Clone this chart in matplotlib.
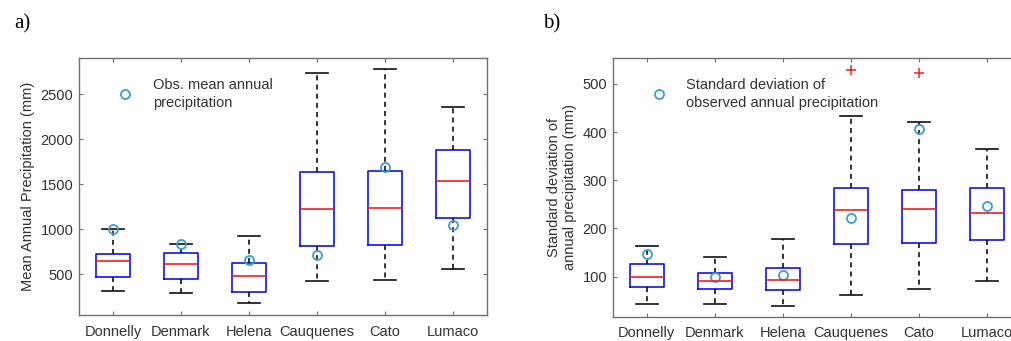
import matplotlib
matplotlib.use("Agg")
import matplotlib.pyplot as plt
from matplotlib.lines import Line2D

plt.rcParams['font.family'] = ['Liberation Sans', 'DejaVu Sans']

stations = ["Donnelly", "Denmark", "Helena", "Cauquenes", "Cato", "Lumaco"]

# Panel a: mean annual precipitation (mm)
a_whislo = [318, 296, 178, 422, 441, 555]
a_q1     = [474, 444, 300, 811, 826, 1130]
a_med    = [648, 618, 478, 1222, 1237, 1533]
a_q3     = [722, 737, 626, 1637, 1652, 1881]
a_whishi = [1007, 841, 926, 2733, 2778, 2363]
a_obs    = [1007, 841, 663, 715, 1696, 1052]
a_fliers = [[], [], [], [], [], []]

# Panel b: standard deviation of annual precipitation (mm)
b_whislo = [43, 43, 40, 63, 75, 92]
b_q1     = [78, 75, 72, 167, 169, 177]
b_med    = [100, 90, 93, 239, 240, 232]
b_q3     = [126, 108, 119, 283, 279, 283]
b_whishi = [164, 140, 179, 433, 420, 364]
b_obs    = [148, 100, 103, 222, 407, 247]
b_fliers = [[], [], [], [528], [523], []]

TXT = '#333333'
SPINE = '#707070'
OBS_C = '#3d9bd0'
FS = 10.5


def make_stats(lo, q1, med, q3, hi, fl):
    return [dict(whislo=lo[i], q1=q1[i], med=med[i], q3=q3[i], whishi=hi[i],
                 fliers=fl[i], label=stations[i]) for i in range(len(stations))]


def draw(ax, stats, obs, ylim, yticks, legend_label, ylabel, ylab_x):
    pos = list(range(1, len(stations) + 1))
    ax.bxp(stats, positions=pos, widths=0.5, capwidths=0.32, showfliers=True,
           boxprops=dict(color='#1010ee', linewidth=1.2),
           medianprops=dict(color='#ee2020', linewidth=1.2),
           whiskerprops=dict(color='#111111', linewidth=1.2, linestyle=(0, (3, 2.5))),
           capprops=dict(color='#111111', linewidth=1.2),
           flierprops=dict(marker='+', markeredgecolor='#ee2020', markersize=7,
                           markeredgewidth=1.1, linestyle='none'))
    ax.plot(pos, obs, linestyle='none', marker='o', markersize=6.5,
            markerfacecolor='none', markeredgecolor=OBS_C, markeredgewidth=1.3)
    ax.set_xlim(0.5, len(stations) + 0.5)
    ax.set_ylim(*ylim)
    ax.set_yticks(yticks)
    ax.set_xticks(pos)
    ax.set_xticklabels(stations)
    ax.tick_params(direction='in', top=True, right=True, length=3, width=0.8,
                   colors=SPINE, labelcolor=TXT, labelsize=FS, pad=4)
    ax.tick_params(axis='x', pad=7)
    for s in ax.spines.values():
        s.set_color(SPINE)
        s.set_linewidth(1.0)
    ax.set_ylabel(ylabel, fontsize=FS, color=TXT, linespacing=1.2)
    ax.yaxis.set_label_coords(ylab_x, 0.5)
    h = Line2D([], [], linestyle='none', marker='o', markersize=6.5,
               markerfacecolor='none', markeredgecolor=OBS_C, markeredgewidth=1.3)
    leg = ax.legend([h], [legend_label], loc='upper left', bbox_to_anchor=(0.045, 0.975),
                    frameon=False, fontsize=FS, handlelength=2.0, handletextpad=0.9,
                    labelcolor=TXT)
    for t in leg.get_texts():
        t.set_linespacing(1.4)


fig = plt.figure(figsize=(10.11, 3.41), dpi=100)
ax1 = fig.add_axes([0.0781, 0.0762, 0.4036, 0.7537])
ax2 = fig.add_axes([0.606, 0.0713, 0.4036, 0.7578])

draw(ax1, make_stats(a_whislo, a_q1, a_med, a_q3, a_whishi, a_fliers), a_obs,
     (48, 2903), [500, 1000, 1500, 2000, 2500],
     "Obs. mean annual\nprecipitation", "Mean Annual Precipitation (mm)", -0.108)
draw(ax2, make_stats(b_whislo, b_q1, b_med, b_q3, b_whishi, b_fliers), b_obs,
     (17, 553), [100, 200, 300, 400, 500],
     "Standard deviation of\nobserved annual precipitation",
     "Standard deviation of\nannual precipitation (mm)", -0.0875)

fig.text(22 / 1011, 1 - 24 / 341, "a)", fontsize=15, family=['Liberation Serif'],
         ha='center', va='center', color='black')
fig.text(552 / 1011, 1 - 24 / 341, "b)", fontsize=15, family=['Liberation Serif'],
         ha='center', va='center', color='black')

fig.savefig("out.png", dpi=100)
